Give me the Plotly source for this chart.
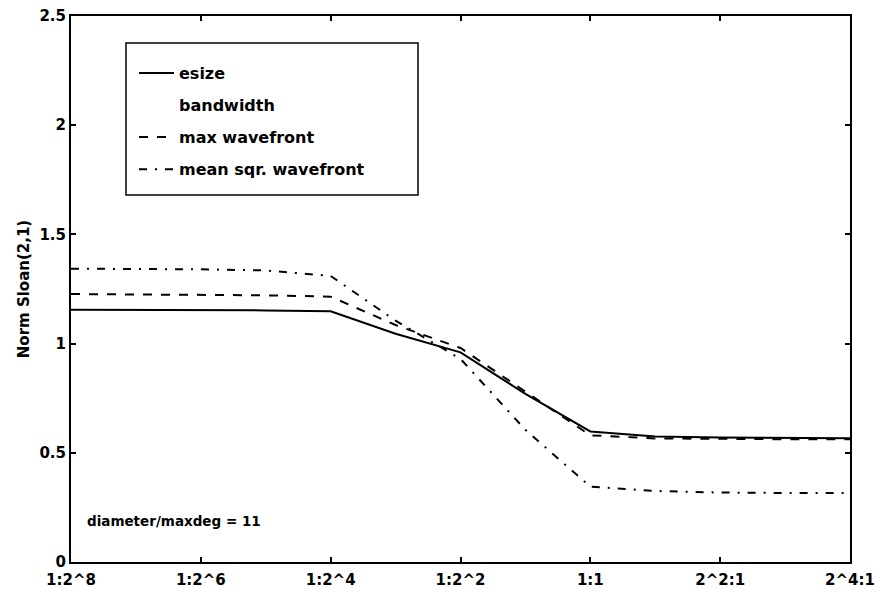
import plotly.graph_objects as go

# x positions are log2 of the ratio (1:2^8 -> -8, ..., 2^4:1 -> 4)
ratio_log2 = [-8, -7, -6, -5, -4, -3, -2, -1, 0, 1, 2, 3, 4]
esize = [1.155, 1.155, 1.154, 1.152, 1.148, 1.045, 0.960, 0.770, 0.598, 0.575, 0.570, 0.568, 0.567]
max_wavefront = [1.227, 1.226, 1.224, 1.221, 1.215, 1.085, 0.980, 0.778, 0.580, 0.566, 0.563, 0.562, 0.562]
mean_sqr_wavefront = [1.343, 1.342, 1.340, 1.335, 1.310, 1.105, 0.930, 0.605, 0.345, 0.325, 0.318, 0.316, 0.316]

x_tick_vals = [-8, -6, -4, -2, 0, 2, 4]
x_tick_text = ["1:2^8", "1:2^6", "1:2^4", "1:2^2", "1:1", "2^2:1", "2^4:1"]
y_tick_vals = [0, 0.5, 1, 1.5, 2, 2.5]
y_tick_text = ["0", "0.5", "1", "1.5", "2", "2.5"]

W, H = 874, 589
L, R, T, B = 71, 24, 16, 27
pw, ph = W - L - R, H - T - B

def px_x(p):
    return (p - L) / pw

def px_y(p):
    return (H - B - p) / ph

FONT = "DejaVu Sans"

fig = go.Figure()
fig.add_trace(go.Scatter(x=ratio_log2, y=esize, mode="lines", name="esize",
                         legendgroup="a",
                         line=dict(color="black", width=2)))
fig.add_trace(go.Scatter(x=[None], y=[None], mode="lines", name="bandwidth",
                         legendgroup="b",
                         line=dict(color="rgba(0,0,0,0)", width=2, dash="dot")))
fig.add_trace(go.Scatter(x=ratio_log2, y=max_wavefront, mode="lines", name="max wavefront",
                         legendgroup="c",
                         line=dict(color="black", width=2, dash="9px,9px")))
fig.add_trace(go.Scatter(x=ratio_log2, y=mean_sqr_wavefront, mode="lines", name="mean sqr. wavefront",
                         legendgroup="d",
                         line=dict(color="black", width=2, dash="8px,8px,2px,8px")))

fig.add_annotation(x=-7.78, y=0.188, xref="x", yref="y", text="diameter/maxdeg = 11",
                   showarrow=False, xanchor="left", yanchor="middle",
                   font=dict(family=FONT, size=13.5, color="black", weight="bold"))

# legend frame
fig.add_shape(type="rect", xref="paper", yref="paper",
              x0=px_x(126), x1=px_x(418), y0=px_y(195), y1=px_y(43),
              line=dict(color="black", width=1.5), fillcolor="rgba(0,0,0,0)")

axis_common = dict(showline=True, linecolor="black", linewidth=2, mirror="ticks",
                   ticks="inside", ticklen=5, tickwidth=1.5, tickcolor="black",
                   showgrid=False, zeroline=False, automargin=False,
                   ticklabeloverflow="allow",
                   tickfont=dict(family=FONT, size=15, color="black", weight="bold"))

fig.update_xaxes(range=[-8, 4], tickmode="array", tickvals=x_tick_vals, ticktext=x_tick_text,
                 ticklabelstandoff=3, **axis_common)
fig.update_yaxes(range=[0, 2.5], tickmode="array", tickvals=y_tick_vals, ticktext=y_tick_text,
                 title=dict(text="Norm Sloan(2,1)", standoff=6,
                            font=dict(family=FONT, size=15, color="black", weight="bold")),
                 **axis_common)

fig.update_layout(
    width=W, height=H,
    margin=dict(l=L, r=R, t=T, b=B, pad=0),
    plot_bgcolor="white", paper_bgcolor="white",
    showlegend=True,
    legend=dict(x=px_x(134), y=px_y(56), xanchor="left", yanchor="top",
                bgcolor="rgba(0,0,0,0)", borderwidth=0, itemwidth=35,
                tracegroupgap=8.3,
                font=dict(family=FONT, size=16, color="black", weight="bold")),
)

fig.write_html("out.html")
